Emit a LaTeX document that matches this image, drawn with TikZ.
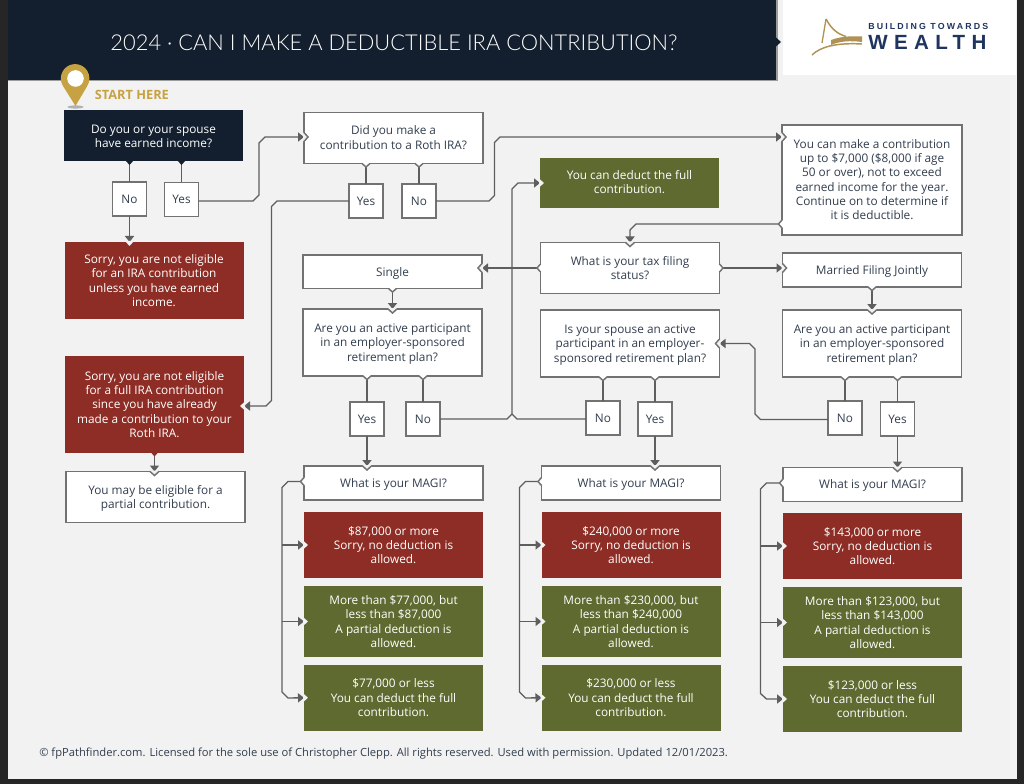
\documentclass[tikz,border=0pt]{standalone}
\usepackage{fontspec}
\setmainfont{Open Sans}
\newfontfamily\titlefont{Lato Light}
\newfontfamily\logosmall[LetterSpace=24.5]{Liberation Sans}
\newfontfamily\logobig[LetterSpace=31]{Liberation Sans}
\usetikzlibrary{arrows.meta}
\definecolor{framedark}{HTML}{262626}
\definecolor{pagebg}{HTML}{F2F2F2}
\definecolor{navy}{HTML}{131F2E}
\definecolor{ink}{HTML}{323E4E}
\definecolor{edgegrey}{HTML}{727272}
\definecolor{linkgrey}{HTML}{5E5E5E}
\definecolor{stopred}{HTML}{8E2D25}
\definecolor{goolive}{HTML}{5E6A30}
\definecolor{pingold}{HTML}{C7A243}
\definecolor{logogold}{HTML}{B09254}
\definecolor{logonavy}{HTML}{1F3560}
\begin{document}
\begin{tikzpicture}[x=.75pt,y=-.75pt,
  lower/.style={text depth=2.4pt-#1*1.5pt},
  bodytext/.style={font=\fontsize{8.85}{10.75}\selectfont,align=center,inner sep=0pt,outer sep=0pt,lower=3},
  wbox/.style={bodytext,draw=edgegrey,line width=1.1pt,fill=white,text=ink,minimum width=134.25pt},
  tag/.style={wbox,lower=1.5,minimum width=25.5pt,minimum height=25.5pt},
  navybox/.style={bodytext,fill=navy,text=white,minimum width=134.25pt},
  redbox/.style={bodytext,lower=2,fill=stopred,text=white,minimum width=134.25pt},
  greenbox/.style={bodytext,lower=3,fill=goolive,text=white,minimum width=134.25pt},
  h/.style={minimum height=#1*.75pt},
  link/.style={draw=linkgrey,line width=1pt},
  arrow/.style={link,-{Triangle[length=4.5pt,width=6.8pt]}},
  pics/notch/.style={code={
    \fill[pagebg] (-1,-4.5)--(4,0)--(-1,4.5)--cycle;
    \draw[edgegrey,line width=1.1pt] (0,-4.5)--(4,0)--(0,4.5);}},
  pics/dent/.style={code={\fill[pagebg] (-1,-4.5)--(4,0)--(-1,4.5)--cycle;}},
  pics/spout/.style={code={
    \fill[white] (-1,-4)--(3.5,0)--(-1,4)--cycle;
    \draw[edgegrey,line width=1.1pt] (0,-4)--(3.5,0)--(0,4);}},
  pics/nub/.style={code={\fill[#1] (-1,-4)--(3.5,0)--(-1,4)--cycle;}}]
  \useasboundingbox (0,0) rectangle (1024,784);
  \fill[framedark] (0,0) rectangle (1024,784);
  \fill[pagebg] (7.5,0) rectangle (1017,779);
  \fill[white] (783,0) rectangle (1016,75);
  \fill[navy] (7.5,0) rectangle (777,80);
  \draw[edgegrey!70,line width=.8pt] (7.5,80.5)--(777,80.5)--(777,0);
  \fill[navy] (776,37.5)--(781,42)--(776,46.5)--cycle;
  \node[font=\titlefont\fontsize{16.4}{20}\selectfont,text=white,inner sep=0pt] (title) at (394,42.5) {2024 · CAN I MAKE A DEDUCTIBLE IRA CONTRIBUTION?};

  \draw[logogold,line width=1pt] (822,43)--(826,19);
  \draw[logogold,line width=1.1pt] (826,19) .. controls (832,30) and (838,34) .. (846,36.5);
  \fill[logogold] (831,40) .. controls (842,36) and (852,36) .. (862,36.5) -- (862,42) .. controls (850,40.5) and (840,41) .. (831,45) -- cycle;
  \draw[logogold,line width=1.1pt] (812,55) .. controls (820,47) and (836,42.5) .. (862,44);
  \node[font=\logosmall\bfseries\fontsize{6.6}{8}\selectfont,text=logonavy,inner sep=0pt,anchor=west] (logotop) at (868,26.5) {BUILDING TOWARDS};
  \node[font=\logobig\bfseries\fontsize{15.4}{18}\selectfont,text=logonavy,inner sep=0pt,anchor=west] (logomain) at (868,42) {WEALTH};

  \fill[black!30] (75.5,107) ellipse (8 and 1.6);
  \fill[pingold] (75.5,106) -- (63,86) arc[start angle=148,end angle=392,x radius=14.3,y radius=14.3] -- cycle;
  \fill[white] (75.5,78.5) circle (8.3);
  \node[font=\bfseries\fontsize{9.6}{11}\selectfont,text=pingold,inner sep=0pt,anchor=west] (start) at (94.5,95) {START HERE};

  \node[navybox,lower=2,h=51] (earned) at (153.5,136) {Do you or your spouse\\have earned income?};
  \node[tag] (no1) at (129.5,199) {No};
  \node[tag] (yes1) at (181.5,199.5) {Yes};
  \node[redbox,h=77] (sorry1) at (154,280.5) {Sorry, you are not eligible\\for an IRA contribution\\unless you have earned\\income.};
  \node[wbox,lower=1,h=51] (roth) at (393.5,138) {Did you make a\\contribution to a Roth IRA?};
  \node[tag] (yes2) at (366,201) {Yes};
  \node[tag] (no2) at (419,201) {No};
  \node[greenbox,lower=.5,h=50] (full) at (629.5,183) {You can deduct the full\\contribution.};
  \node[wbox,lower=1,h=110,minimum width=135pt] (limit) at (872,180) {You can make a contribution\\up to \$7,000 (\$8,000 if age\\50 or over), not to exceed\\earned income for the year.\\Continue on to determine if\\it is deductible.};
  \node[wbox,lower=4,h=51] (filing) at (630,268) {What is your tax filing\\status?};
  \node[wbox,lower=2,h=33.5] (single) at (392.5,271.75) {Single};
  \node[wbox,lower=2,h=34] (joint) at (872,270) {Married Filing Jointly};
  \node[redbox,lower=4,h=97] (sorry2) at (154.5,404.5) {Sorry, you are not eligible\\for a full IRA contribution\\since you have already\\made a contribution to your\\Roth IRA.};
  \node[wbox,h=51] (partial) at (155.5,497) {You may be eligible for a\\partial contribution.};

  \node[wbox,h=67] (active1) at (392.5,342.5) {Are you an active participant\\in an employer-sponsored\\retirement plan?};
  \node[tag] (yes3) at (367,419) {Yes};
  \node[tag] (no3) at (423,419) {No};
  \node[wbox,h=34] (magi1) at (393.5,483) {What is your MAGI?};
  \node[redbox,lower=3.6,h=66] (red1) at (393.5,545) {\$87,000 or more\\Sorry, no deduction is\\allowed.};
  \node[greenbox,lower=5.4,h=71] (mid1) at (393.5,621.5) {More than \$77,000, but\\less than \$87,000\\A partial deduction is\\allowed.};
  \node[greenbox,lower=4.6,h=66.5] (low1) at (393.5,697.75) {\$77,000 or less\\You can deduct the full\\contribution.};

  \node[wbox,lower=4,h=67] (spouse) at (630,343.5) {Is your spouse an active\\participant in an employer-\\sponsored retirement plan?};
  \node[tag] (no4) at (603,418) {No};
  \node[tag] (yes4) at (655,419) {Yes};
  \node[wbox,h=34] (magi2) at (631,483) {What is your MAGI?};
  \node[redbox,h=66] (red2) at (631,545) {\$240,000 or more\\Sorry, no deduction is\\allowed.};
  \node[greenbox,h=71] (mid2) at (631,621.5) {More than \$230,000, but\\less than \$240,000\\A partial deduction is\\allowed.};
  \node[greenbox,lower=4,h=66.5] (low2) at (631,697.75) {\$230,000 or less\\You can deduct the full\\contribution.};

  \node[wbox,lower=2,h=67] (active3) at (872,343.5) {Are you an active participant\\in an employer-sponsored\\retirement plan?};
  \node[tag] (no5) at (845,418) {No};
  \node[tag] (yes5) at (897.5,419) {Yes};
  \node[wbox,lower=2,h=34] (magi3) at (872.5,484.5) {What is your MAGI?};
  \node[redbox,h=66] (red3) at (872.5,546) {\$143,000 or more\\Sorry, no deduction is\\allowed.};
  \node[greenbox,lower=3.7,h=71] (mid3) at (872.5,622.5) {More than \$123,000, but\\less than \$143,000\\A partial deduction is\\allowed.};
  \node[greenbox,lower=2.3,h=66.5] (low3) at (872.5,699) {\$123,000 or less\\You can deduct the full\\contribution.};

  \node[font=\fontsize{8.4}{10.5}\selectfont,text=ink,inner sep=0pt,anchor=west] (note) at (39,754) {© fpPathfinder.com. Licensed for the sole use of Christopher Clepp. All rights reserved. Used with permission. Updated 12/01/2023.};

  \draw[link] (no1.north) -- (no1.north |- earned.south);
  \draw[link] (yes1.north) -- (yes1.north |- earned.south);
  \draw[arrow] (no1.south) -- (no1.south |- sorry1.north);
  \draw[arrow] (yes1.east |- 0,201) -- (253,201) -- (259,195) -- (259,143) -- (265,137) -- (roth.west |- 0,137);
  \draw[link] (yes2.north) -- (yes2.north |- roth.south);
  \draw[link] (no2.north) -- (no2.north |- roth.south);
  \draw[arrow] (yes2.west) -- (277,201) -- (271.5,206.5) -- (271.5,400.5) -- (266,406) -- (sorry2.east |- 0,406);
  \draw[arrow] (no2.east) -- (489,201) -- (494.5,195.5) -- (494.5,142.5) -- (500,137) -- (limit.west |- 0,137);
  \draw[arrow] (limit.west |- 0,224) -- (636,224) -- (630,230) -- (filing.north);
  \draw[arrow] (filing.west) -- (single.east |- filing.west);
  \draw[arrow] (filing.east) -- (joint.west |- filing.east);
  \draw[arrow] (single.south) -- (single.south |- active1.north);
  \draw[arrow] (joint.south) -- (joint.south |- active3.north);
  \draw[arrow] (sorry2.south) -- (sorry2.south |- partial.north);

  \draw[link] (yes3.north) -- (yes3.north |- active1.south);
  \draw[link] (no3.north) -- (no3.north |- active1.south);
  \draw[arrow] (yes3.south) -- (yes3.south |- magi1.north);
  \draw[arrow] (no3.east) -- (507,419) -- (512,414) -- (512,189) -- (518,183) -- (full.west);
  \draw[link] (no4.west |- no3.east) -- (517,419) -- (512,414);
  \draw[link] (no4.north) -- (no4.north |- spouse.south);
  \draw[link] (yes4.north) -- (yes4.north |- spouse.south);
  \draw[arrow] (yes4.south) -- (yes4.south |- magi2.north);
  \draw[link] (no5.north) -- (no5.north |- active3.south);
  \draw[link] (yes5.north) -- (yes5.north |- active3.south);
  \draw[arrow] (yes5.south) -- (yes5.south |- magi3.north);
  \draw[arrow] (no5.west |- 0,419.5) -- (760.5,419.5) -- (755,414) -- (755,349) -- (749.5,343.5) -- (spouse.east);

  \coordinate (bus1) at (282,0);
  \coordinate (bus2) at (519.5,0);
  \coordinate (bus3) at (760.5,0);
  \draw[arrow] (magi1.west |- 0,481.5) -- (288,481.5) -- (282,487.5) -- (282,692) -- (288,698) -- (low1.west);
  \draw[arrow] (bus1 |- red1.west) -- (red1.west);
  \draw[arrow] (bus1 |- mid1.west) -- (mid1.west);
  \draw[arrow] (magi2.west |- 0,481.5) -- (525.5,481.5) -- (519.5,487.5) -- (519.5,692) -- (525.5,698) -- (low2.west);
  \draw[arrow] (bus2 |- red2.west) -- (red2.west);
  \draw[arrow] (bus2 |- mid2.west) -- (mid2.west);
  \draw[arrow] (magi3.west |- 0,483) -- (766.5,483) -- (760.5,489) -- (760.5,693.5) -- (766.5,699) -- (low3.west);
  \draw[arrow] (bus3 |- red3.west) -- (red3.west);
  \draw[arrow] (bus3 |- mid3.west) -- (mid3.west);

  \pic[rotate=-90] at (no1.north |- earned.south) {nub=navy};
  \pic[rotate=-90] at (yes1.north |- earned.south) {nub=navy};
  \pic[rotate=-90] at (no1.south |- sorry1.north) {dent};
  \pic at (roth.west |- 0,137) {notch};
  \pic[rotate=-90] at (yes2.north |- roth.south) {spout};
  \pic[rotate=-90] at (no2.north |- roth.south) {spout};
  \pic[rotate=180] at (sorry2.east |- 0,406) {dent};
  \pic[rotate=-90] at (sorry2.south) {nub=stopred};
  \pic[rotate=-90] at (partial.north -| sorry2.south) {notch};
  \pic at (limit.west |- 0,137) {notch};
  \pic at (full.west) {dent};
  \pic[rotate=180] at (limit.west |- 0,224) {spout};
  \pic[rotate=-90] at (filing.north) {notch};
  \pic[rotate=180] at (filing.west) {spout};
  \pic at (filing.east) {spout};
  \pic[rotate=180] at (single.east |- filing.west) {notch};
  \pic at (joint.west |- filing.east) {notch};
  \pic[rotate=-90] at (single.south) {spout};
  \pic[rotate=-90] at (single.south |- active1.north) {notch};
  \pic[rotate=-90] at (joint.south) {spout};
  \pic[rotate=-90] at (joint.south |- active3.north) {notch};
  \pic[rotate=-90] at (yes3.north |- active1.south) {spout};
  \pic[rotate=-90] at (no3.north |- active1.south) {spout};
  \pic[rotate=-90] at (yes3.south |- magi1.north) {notch};
  \pic[rotate=-90] at (no4.north |- spouse.south) {spout};
  \pic[rotate=-90] at (yes4.north |- spouse.south) {spout};
  \pic[rotate=-90] at (yes4.south |- magi2.north) {notch};
  \pic[rotate=180] at (spouse.east) {notch};
  \pic[rotate=-90] at (no5.north |- active3.south) {spout};
  \pic[rotate=-90] at (yes5.north |- active3.south) {spout};
  \pic[rotate=-90] at (yes5.south |- magi3.north) {notch};
  \pic[rotate=180] at (magi1.west |- 0,481.5) {spout};
  \pic at (red1.west) {dent};
  \pic at (mid1.west) {dent};
  \pic at (low1.west) {dent};
  \pic[rotate=180] at (magi2.west |- 0,481.5) {spout};
  \pic at (red2.west) {dent};
  \pic at (mid2.west) {dent};
  \pic at (low2.west) {dent};
  \pic[rotate=180] at (magi3.west |- 0,483) {spout};
  \pic at (red3.west) {dent};
  \pic at (mid3.west) {dent};
  \pic at (low3.west) {dent};
\end{tikzpicture}
\end{document}
